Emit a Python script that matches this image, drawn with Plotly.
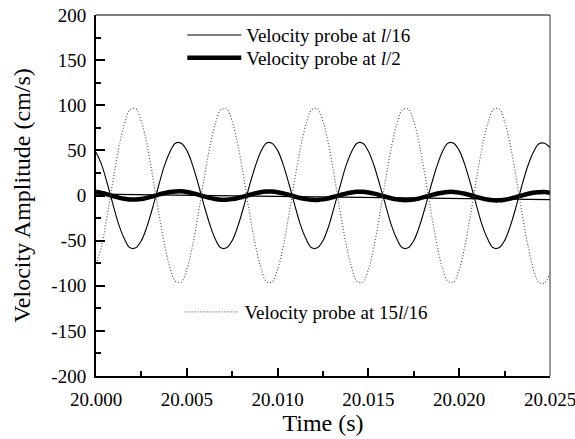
import plotly.graph_objects as go

# sample times (s): 20.000 .. 20.025 every 0.0003125 s
time_s = [round(20.0 + i * 0.0003125, 7) for i in range(81)]

# Velocity probe at l/16 (cm/s)
v_l16 = [48, 34, 13, -10, -32, -48, -58, -58, -50, -34, -13, 10, 32, 48, 58, 58,
         50, 34, 13, -10, -31, -48, -58, -58, -50, -34, -13, 10, 31, 48, 58, 58,
         50, 34, 13, -10, -32, -48, -58, -58, -50, -34, -12, 10, 32, 48, 58, 58,
         49, 33, 12, -10, -32, -48, -58, -58, -50, -34, -13, 10, 31, 48, 58, 58,
         50, 34, 13, -10, -32, -48, -58, -58, -50, -34, -13, 10, 31, 47, 57, 58,
         53]

# Velocity probe at l/2 (cm/s)
v_l2 = [4.1, 2.8, 1.2, -0.6, -2.3, -3.6, -4.4, -4.4, -3.8, -2.6, -0.9, 0.9, 2.5, 3.8, 4.5, 4.6,
        3.9, 2.6, 0.9, -0.9, -2.6, -3.8, -4.6, -4.6, -4.0, -2.8, -1.2, 0.6, 2.3, 3.6, 4.3, 4.4,
        3.7, 2.4, 0.7, -1.1, -2.8, -4.0, -4.8, -4.9, -4.3, -3.0, -1.4, 0.4, 2.1, 3.3, 4.1, 4.2,
        3.4, 2.1, 0.5, -1.3, -3.0, -4.3, -5.0, -5.1, -4.5, -3.2, -1.6, 0.2, 1.9, 3.1, 3.9, 4.0,
        3.2, 1.9, 0.3, -1.5, -3.2, -4.5, -5.3, -5.4, -4.7, -3.4, -1.8, 0.0, 1.7, 3.0, 3.6, 3.8,
        3.0]

# Velocity probe at 15l/16 (cm/s)
v_15l16 = [-76, -56, -21, 17, 52, 79, 95, 96, 82, 56, 21, -17, -52, -79, -95, -96,
           -82, -56, -21, 17, 52, 79, 95, 96, 82, 56, 21, -17, -52, -79, -95, -96,
           -82, -56, -21, 17, 52, 79, 95, 96, 82, 56, 21, -17, -52, -79, -95, -96,
           -82, -56, -21, 17, 52, 79, 95, 96, 82, 56, 21, -17, -52, -79, -95, -96,
           -82, -56, -21, 17, 52, 79, 95, 96, 82, 56, 21, -17, -52, -80, -96, -97,
           -86]

# thin mean-drift line of the l/2 probe
drift_t = [20.000, 20.025]
drift_v = [1.5, -4.5]

x_ticks = [20.000, 20.005, 20.010, 20.015, 20.020, 20.025]
x_ticktext = ["20.000", "20.005", "20.010", "20.015", "20.020", "20.025"]
y_ticks = [-200, -150, -100, -50, 0, 50, 100, 150, 200]
y_ticktext = ["-200", "-150", "-100", "-50", "0", "50", "100", "150", "200"]

serif = "Liberation Serif, Times New Roman, serif"

fig = go.Figure()
fig.add_trace(go.Scatter(x=drift_t, y=drift_v, mode="lines", showlegend=False,
                         line=dict(color="black", width=1.2), hoverinfo="skip"))
fig.add_trace(go.Scatter(x=time_s, y=v_l16, mode="lines", name="Velocity probe at <i>l</i>/16",
                         line=dict(color="black", width=1.1, shape="spline"), legend="legend"))
fig.add_trace(go.Scatter(x=time_s, y=v_l2, mode="lines", name="Velocity probe at <i>l</i>/2",
                         line=dict(color="black", width=4.5, shape="spline"), legend="legend3"))
fig.add_trace(go.Scatter(x=time_s, y=v_15l16, mode="lines", name="Velocity probe at 15<i>l</i>/16",
                         line=dict(color="#555555", width=1.2, dash="1px,2px", shape="spline"),
                         legend="legend2"))

axis_common = dict(showgrid=False, zeroline=False, linecolor="black", linewidth=2,
                   ticks="inside", tickcolor="black", tickwidth=1.5, automargin=False,
                   ticklabeloverflow="allow",
                   tickfont=dict(family=serif, size=19, color="black"))

fig.update_xaxes(range=[20.000, 20.025], tickvals=x_ticks, ticktext=x_ticktext,
                 ticklen=8, ticklabelstandoff=5,
                 minor=dict(ticks="inside", dtick=0.0025, tick0=20.0, ticklen=5, tickcolor="black", tickwidth=1.5),
                 title=dict(text="Time (s)", font=dict(family=serif, size=24, color="black"), standoff=5),
                 **axis_common)
fig.update_yaxes(range=[-200, 200], tickvals=y_ticks, ticktext=y_ticktext, ticklen=9, ticklabelstandoff=4,
                 minor=dict(ticks="inside", dtick=25, ticklen=5, tickcolor="black", tickwidth=1.5),
                 title=dict(text="Velocity Amplitude (cm/s)", font=dict(family=serif, size=24, color="black"), standoff=14),
                 **axis_common)

# top and right frame lines (thinner)
fig.add_shape(type="line", xref="paper", yref="paper", x0=0, x1=1, y0=1, y1=1,
              line=dict(color="black", width=1))
fig.add_shape(type="line", xref="paper", yref="paper", x0=1, x1=1, y0=0, y1=1,
              line=dict(color="#333333", width=1))

leg_common = dict(xanchor="left", yanchor="top", bgcolor="rgba(0,0,0,0)",
                  font=dict(family=serif, size=19, color="black"), itemwidth=54)

fig.update_layout(
    width=575, height=439,
    margin=dict(l=96, r=25, t=15, b=63),
    plot_bgcolor="white", paper_bgcolor="white",
    font=dict(family=serif, color="black"),
    legend=dict(x=0.19, y=0.997, **leg_common),
    legend3=dict(x=0.19, y=0.9335, **leg_common),
    legend2=dict(x=0.186, y=0.23, **leg_common),
)

fig.write_html("out.html")
